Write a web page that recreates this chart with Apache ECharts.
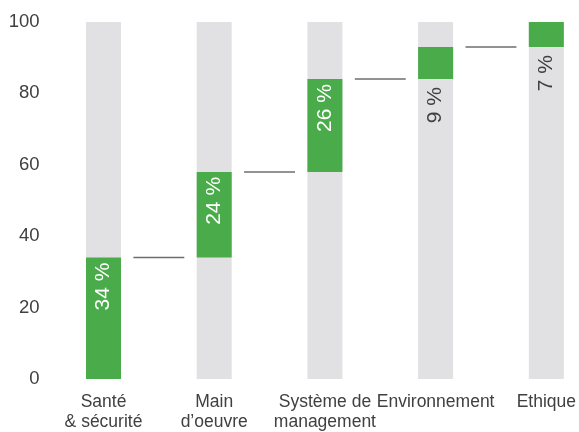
<!DOCTYPE html>
<html><head><meta charset="utf-8">
<script src="https://cdn.jsdelivr.net/npm/echarts@6/dist/echarts.min.js"></script>
<style>html,body{margin:0;padding:0;background:#fff}#c{width:579px;height:432px}</style>
</head><body><div id="c"></div>
<script>
const categories = ['Santé\n& sécurité', 'Main\nd\u2019oeuvre', 'Système de\nmanagement', 'Environnement', 'Ethique'];
const shares = [34, 24, 26, 9, 7];
const yTicks = [0, 20, 40, 60, 80, 100];

const bases = [];
let acc = 0;
shares.forEach(v => { bases.push(acc); acc += v; });
const connectors = [];
for (let i = 0; i < shares.length - 1; i++) connectors.push([i, bases[i] + shares[i]]);

const font = 'Liberation Sans, Arial, sans-serif';
const txt = '#404040';
const chart = echarts.init(document.getElementById('c'));
chart.setOption({
  animation: false,
  grid: { left: 103.5, right: 32, top: 22, bottom: 50, containLabel: false },
  xAxis: {
    type: 'category', data: categories, boundaryGap: false,
    axisLine: { show: false }, axisTick: { show: false }, splitLine: { show: false },
    axisLabel: { color: txt, fontSize: 17.5, fontFamily: font, margin: 13, lineHeight: 20, interval: 0 }
  },
  yAxis: {
    type: 'value', min: yTicks[0], max: yTicks[yTicks.length - 1], interval: 20,
    axisLine: { show: false }, axisTick: { show: false }, splitLine: { show: false },
    axisLabel: { color: txt, fontSize: 18.5, fontFamily: font, margin: 64 }
  },
  series: [
    {
      type: 'bar', stack: 'w', data: bases, barWidth: 35,
      itemStyle: { color: 'transparent' },
      showBackground: true, backgroundStyle: { color: '#e1e1e3' },
      silent: true
    },
    {
      type: 'bar', stack: 'w', barWidth: 35,
      itemStyle: { color: '#4aab4a' },
      data: shares.map((v, i) => {
        const dark = v < 15;
        return {
          value: v,
          label: {
            show: true, formatter: '{c} %', rotate: 90,
            position: dark ? 'bottom' : 'insideTop',
            align: 'right', verticalAlign: 'middle',
            distance: dark ? 8 : 5,
            color: dark ? txt : '#ffffff', fontSize: 21, fontFamily: font
          }
        };
      })
    },
    {
      type: 'custom', data: connectors, silent: true,
      renderItem: function (params, api) {
        const p = api.coord([api.value(0), api.value(1)]);
        const w = api.size([1, 0])[0];
        return {
          type: 'line',
          shape: { x1: p[0] + w * 0.27, y1: p[1], x2: p[0] + w * 0.73, y2: p[1] },
          style: { stroke: '#6e6e6e', lineWidth: 1.5 }
        };
      }
    }
  ]
});
</script></body></html>
